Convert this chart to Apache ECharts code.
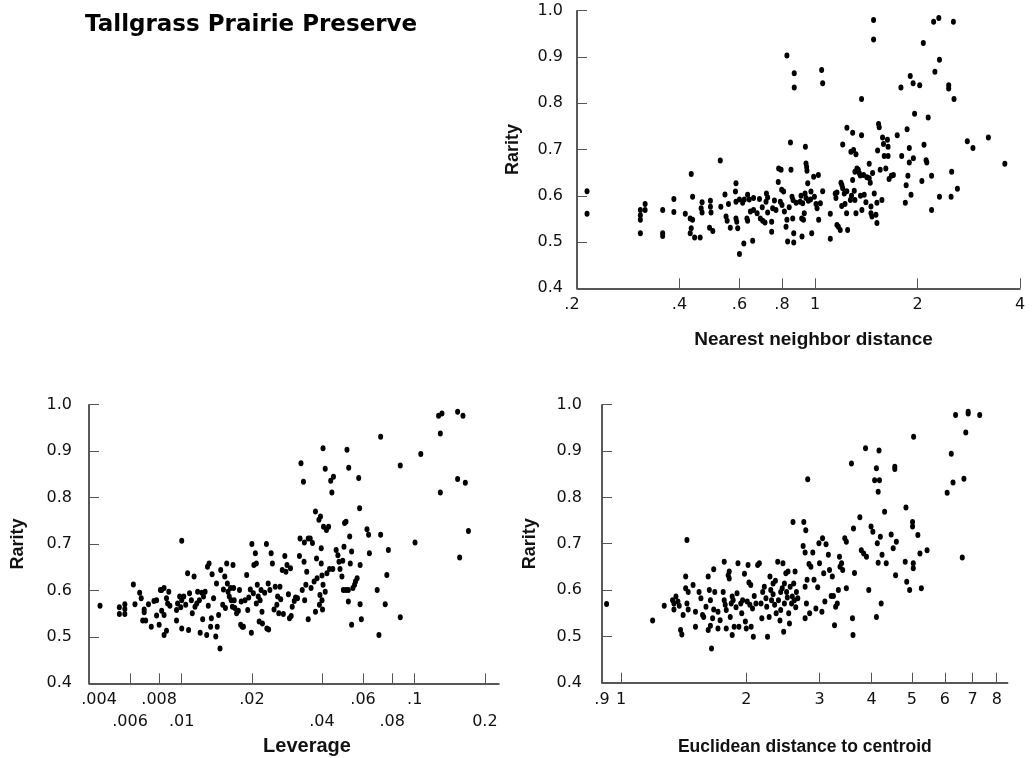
<!DOCTYPE html>
<html><head><meta charset="utf-8">
<script src="https://cdn.jsdelivr.net/npm/echarts@6/dist/echarts.min.js"></script>
<style>html,body{margin:0;padding:0;background:#fff}#c{width:1033px;height:758px}</style>
</head><body><div id="c"></div>
<script>
// ---- tick values / labels ----
const nnTickValues = [0.4, 0.6, 0.8, 1, 2, 4];
const nnLabelValues = [0.2, 0.4, 0.6, 0.8, 1, 2, 4];
const levTickValues = [0.006, 0.008, 0.01, 0.02, 0.04, 0.06, 0.08, 0.1, 0.2];
const levUpperLabels = [0.004, 0.008, 0.02, 0.06, 0.1];
const levLowerLabels = [0.006, 0.01, 0.04, 0.08, 0.2];
const eucTickValues = [1, 2, 3, 4, 5, 6, 7, 8];
const eucLabelValues = [0.9, 1, 2, 3, 4, 5, 6, 7, 8];
const rarityTicks = [0.4, 0.5, 0.6, 0.7, 0.8, 0.9, 1.0];

// ---- data: [x, rarity] ----
const nearestNeighbor = [
[0.214,0.610],[0.214,0.561],
[0.307,0.569],[0.307,0.558],[0.307,0.548],[0.307,0.519],
[0.317,0.582],[0.317,0.569],
[0.357,0.569],[0.357,0.519],[0.357,0.513],
[0.385,0.593],[0.385,0.565],
[0.416,0.561],[0.433,0.647],[0.437,0.598],
[0.430,0.551],[0.433,0.530],[0.430,0.519],[0.437,0.548],
[0.443,0.510],[0.460,0.510],
[0.466,0.586],[0.463,0.573],[0.466,0.564],
[0.493,0.589],[0.493,0.576],[0.495,0.564],
[0.490,0.531],[0.501,0.524],
[0.527,0.676],[0.529,0.576],
[0.544,0.603],[0.548,0.555],[0.552,0.546],[0.557,0.582],[0.564,0.531],
[0.584,0.609],[0.586,0.627],[0.586,0.587],[0.586,0.551],[0.589,0.544],[0.593,0.530],
[0.600,0.474],
[0.618,0.497],[0.656,0.503],
[0.600,0.592],[0.613,0.585],[0.620,0.592],[0.634,0.602],[0.641,0.592],[0.631,0.551],[0.634,0.546],
[0.646,0.566],[0.660,0.569],[0.676,0.562],
[0.687,0.593],[0.691,0.551],[0.702,0.546],[0.713,0.542],[0.726,0.596],[0.718,0.587],[0.726,0.564],
[0.746,0.544],[0.746,0.522],
[0.751,0.573],[0.768,0.569],[0.780,0.630],[0.782,0.659],[0.795,0.656],[0.791,0.587],[0.798,0.613],[0.809,0.609],[0.813,0.566],[0.822,0.533],[0.827,0.548],[0.831,0.501],
[0.827,0.903],
[0.847,0.715],[0.850,0.656],
[0.856,0.598],[0.862,0.591],[0.860,0.551],[0.866,0.519],[0.866,0.499],[0.869,0.865],[0.869,0.834],
[0.904,0.587],[0.910,0.600],[0.920,0.584],[0.914,0.551],[0.916,0.512],[0.925,0.548],[0.937,0.706],[0.941,0.670],[0.945,0.662],[0.947,0.654],[0.952,0.627],[0.941,0.595],[0.956,0.589],[0.935,0.605],[0.973,0.609],[0.978,0.519],
[0.991,0.641],[0.996,0.598],[1.007,0.582],[1.014,0.573],[1.023,0.645],[1.025,0.548],[1.037,0.584],
[1.046,0.872],[1.053,0.843],[1.053,0.610],
[1.109,0.561],[1.109,0.507],
[1.147,0.605],[1.152,0.595],[1.160,0.537],[1.171,0.533],[1.186,0.526],[1.192,0.628],[1.200,0.623],[1.206,0.616],[1.206,0.711],[1.198,0.578],[1.219,0.605],[1.225,0.582],[1.241,0.747],[1.238,0.562],[1.247,0.526],[1.270,0.591],[1.275,0.695],[1.290,0.736],[1.290,0.634],[1.298,0.699],[1.304,0.611],[1.310,0.591],[1.310,0.652],[1.319,0.690],[1.328,0.659],[1.340,0.656],[1.349,0.649],[1.319,0.562],[1.358,0.644],[1.370,0.809],[1.370,0.731],[1.373,0.569],[1.389,0.645],[1.395,0.602],[1.411,0.586],
[1.443,0.669],[1.443,0.638],[1.453,0.628],[1.460,0.577],[1.460,0.562],[1.470,0.555],[1.476,0.649],[1.486,0.980],[1.486,0.938],[1.493,0.605],[1.510,0.559],[1.520,0.541],[1.527,0.698],[1.537,0.755],[1.544,0.748],[1.554,0.656],[1.572,0.591],[1.579,0.726],[1.589,0.712],[1.597,0.686],[1.614,0.659],[1.632,0.721],[1.639,0.706],[1.639,0.686],[1.650,0.636],[1.676,0.643],[1.699,0.645],[1.744,0.731],[1.788,0.834],[1.797,0.686],[1.842,0.585],[1.852,0.623],[1.864,0.744],[1.874,0.643],[1.892,0.703],[1.892,0.672],[1.904,0.859],[1.914,0.602],[1.941,0.843],[1.945,0.681],[1.961,0.777],[2.03,0.839],[2.06,0.632],[2.08,0.930],[2.09,0.710],[2.12,0.677],[2.13,0.672],[2.15,0.769],[2.20,0.643],[2.20,0.569],[2.23,0.976],[2.25,0.868],[2.31,0.984],[2.32,0.894],[2.32,0.598],[2.47,0.839],[2.47,0.832],[2.51,0.598],[2.52,0.652],[2.55,0.976],[2.56,0.809],[2.62,0.615],[2.80,0.718],[2.91,0.703],[3.23,0.726],[3.61,0.669],
[0.66,0.595],[0.70,0.575],[0.72,0.605],[0.76,0.590],[0.80,0.580],[0.84,0.575],[0.88,0.585],[0.93,0.562],[0.97,0.592],[1.16,0.607],[1.24,0.610],[1.28,0.600],[1.36,0.600],[1.42,0.640],[1.52,0.585]
];

const leverage = [
[0.00446,0.567],
[0.0054,0.564],[0.0054,0.549],[0.0057,0.570],[0.0057,0.560],[0.0057,0.549],
[0.0062,0.613],[0.0063,0.570],[0.0066,0.595],[0.0067,0.583],
[0.0068,0.535],[0.0070,0.535],[0.0069,0.559],[0.0069,0.553],
[0.0072,0.570],[0.0074,0.522],
[0.0076,0.577],[0.0078,0.579],[0.0078,0.546],[0.0080,0.526],
[0.0081,0.601],[0.0082,0.601],[0.0084,0.605],[0.0082,0.556],[0.0084,0.547],[0.0084,0.504],[0.0086,0.513],[0.0086,0.583],[0.0088,0.597],[0.0087,0.572],[0.0089,0.567],
[0.0095,0.535],[0.0095,0.558],[0.0096,0.572],[0.0098,0.587],[0.0099,0.564],[0.0100,0.707],[0.0100,0.518],[0.0100,0.579],
[0.0102,0.587],[0.0104,0.569],[0.0106,0.637],[0.0107,0.515],[0.0108,0.594],[0.0110,0.579],[0.0111,0.551],[0.0113,0.630],[0.0114,0.565],[0.0116,0.572],[0.0117,0.597],[0.0119,0.579],[0.0120,0.509],[0.0123,0.538],[0.0122,0.595],[0.0124,0.587],[0.0126,0.597],[0.0128,0.504],[0.0129,0.651],[0.0130,0.567],[0.0131,0.658],
[0.0133,0.522],[0.0134,0.540],[0.0135,0.635],[0.0137,0.583],[0.0140,0.501],[0.0141,0.615],[0.0142,0.522],[0.0144,0.547],[0.0146,0.475],[0.0147,0.644],[0.0150,0.569],[0.0151,0.602],[0.0153,0.630],[0.0154,0.562],[0.0156,0.658],[0.0157,0.615],[0.0158,0.597],[0.0160,0.587],[0.0162,0.605],[0.0163,0.579],[0.0165,0.565],[0.0166,0.655],[0.0167,0.605],[0.0168,0.579],[0.0169,0.562],[0.0172,0.551],[0.0175,0.556],[0.0177,0.601],[0.0179,0.526],[0.0180,0.576],[0.0182,0.522],[0.0184,0.522],[0.0187,0.579],[0.0190,0.633],[0.0192,0.558],[0.0194,0.585],[0.0197,0.602],[0.0199,0.509],[0.0200,0.700],[0.0203,0.594],[0.0204,0.655],[0.0207,0.680],[0.0209,0.658],[0.0209,0.572],[0.0211,0.612],[0.0213,0.587],[0.0215,0.533],[0.0217,0.579],[0.0219,0.601],[0.0221,0.554],[0.0222,0.529],[0.0227,0.595],[0.0231,0.700],[0.0235,0.615],
[0.0232,0.518],[0.0236,0.516],[0.0239,0.601],[0.0242,0.680],[0.0245,0.658],[0.0249,0.559],[0.0252,0.608],[0.0256,0.569],[0.0258,0.587],[0.0261,0.551],[0.0264,0.608],[0.0266,0.581],[0.0270,0.644],[0.0273,0.549],[0.0277,0.674],[0.0280,0.640],[0.0283,0.655],[0.0287,0.592],[0.0290,0.540],[0.0293,0.648],[0.0295,0.545],[0.0298,0.565],[0.0304,0.577],[0.0308,0.585],[0.0314,0.583],
[0.0322,0.712],[0.0320,0.674],[0.0325,0.874],[0.0329,0.601],[0.0333,0.834],[0.0335,0.662],[0.0336,0.703],[0.0337,0.579],[0.0341,0.612],[0.0344,0.640],[0.0349,0.712],[0.0349,0.538],[0.0356,0.712],[0.0359,0.605],[0.0364,0.702],[0.0370,0.619],[0.0375,0.770],[0.0375,0.554],[0.0379,0.669],[0.0381,0.626],[0.0388,0.752],[0.0390,0.569],[0.0392,0.590],[0.0394,0.759],[0.0397,0.691],[0.0397,0.658],[0.0400,0.632],[0.0400,0.579],[0.0402,0.559],[0.0404,0.906],[0.0404,0.612],[0.0406,0.737],[0.0413,0.862],[0.0413,0.597],[0.0418,0.730],[0.0420,0.637],[0.0427,0.737],[0.0431,0.646],[0.0436,0.836],[0.0441,0.811],[0.0445,0.646],[0.0448,0.845],
[0.0460,0.687],[0.0468,0.676],[0.0473,0.662],[0.0478,0.646],[0.0487,0.630],[0.0491,0.664],[0.0494,0.601],[0.0497,0.694],[0.0500,0.745],[0.0507,0.748],[0.0507,0.601],[0.0512,0.903],[0.0519,0.601],[0.0521,0.864],[0.0519,0.576],[0.0526,0.716],[0.0529,0.658],[0.0536,0.684],[0.0536,0.526],[0.0543,0.605],[0.0552,0.612],[0.0557,0.619],[0.0566,0.626],[0.0575,0.842],[0.0580,0.777],[0.0583,0.655],[0.0583,0.570],[0.0590,0.538],[0.0624,0.732],[0.0634,0.720],[0.0639,0.680],
[0.0690,0.601],[0.0702,0.504],[0.0714,0.720],[0.0747,0.570],[0.0759,0.633],[0.0771,0.687],[0.0714,0.931],[0.0867,0.542],[0.0867,0.869],[0.1003,0.703],[0.1062,0.894],
[0.1266,0.976],[0.1309,0.981],[0.1288,0.938],[0.1288,0.811],[0.1528,0.985],[0.1611,0.976],[0.1528,0.840],[0.1649,0.832],[0.1559,0.671],[0.170,0.728]
];

const euclidean = [
[0.923,0.570],[1.191,0.534],[1.27,0.566],
[1.33,0.578],[1.34,0.571],[1.34,0.558],[1.355,0.586],[1.37,0.575],[1.38,0.566],
[1.39,0.514],[1.40,0.504],
[1.41,0.546],[1.43,0.629],[1.43,0.604],[1.44,0.708],[1.44,0.571],[1.45,0.596],[1.45,0.558],[1.49,0.611],[1.51,0.553],[1.51,0.521],[1.54,0.596],[1.556,0.582],[1.57,0.546],[1.58,0.542],[1.60,0.564],[1.62,0.629],[1.62,0.514],[1.63,0.600],[1.64,0.523],[1.64,0.578],[1.65,0.474],[1.66,0.539],[1.67,0.645],[1.67,0.558],[1.68,0.596],[1.71,0.553],[1.71,0.517],[1.73,0.535],[1.76,0.596],[1.77,0.661],[1.77,0.578],[1.78,0.568],[1.79,0.557],[1.79,0.517],[1.81,0.632],[1.82,0.625],[1.82,0.640],[1.83,0.542],[1.84,0.571],[1.85,0.503],[1.85,0.586],[1.86,0.578],[1.87,0.521],[1.89,0.563],[1.90,0.593],[1.91,0.658],[1.92,0.521],[1.94,0.571],[1.95,0.550],[1.96,0.578],[1.98,0.635],[1.99,0.532],[2.0,0.517],[2.01,0.575],[2.02,0.654],[2.03,0.616],[2.04,0.568],[2.05,0.611],[2.055,0.521],[2.07,0.560],[2.08,0.499],[2.09,0.587],[2.11,0.571],[2.13,0.654],[2.15,0.658],[2.17,0.571],[2.18,0.539],[2.19,0.596],[2.21,0.607],[2.23,0.582],[2.24,0.564],[2.25,0.499],[2.27,0.542],[2.28,0.629],[2.29,0.600],[2.30,0.578],[2.32,0.614],[2.32,0.591],[2.34,0.568],[2.35,0.620],[2.36,0.550],[2.38,0.661],[2.39,0.578],[2.41,0.534],[2.42,0.596],[2.42,0.557],[2.44,0.604],[2.45,0.658],[2.46,0.510],[2.47,0.571],[2.47,0.614],[2.49,0.636],[2.50,0.596],[2.51,0.584],[2.52,0.640],[2.53,0.550],[2.54,0.528],[2.55,0.607],[2.57,0.571],[2.58,0.586],[2.59,0.747],[2.60,0.614],[2.61,0.578],[2.62,0.640],[2.63,0.563],[2.64,0.596],[2.66,0.582],
[2.74,0.695],[2.75,0.747],[2.77,0.681],[2.77,0.607],[2.77,0.539],[2.78,0.729],[2.79,0.571],[2.80,0.622],[2.81,0.839],[2.83,0.656],[2.84,0.550],[2.86,0.650],[2.89,0.681],[2.91,0.622],[2.94,0.560],[2.97,0.606],[2.99,0.701],[3.0,0.658],[3.04,0.553],[3.05,0.712],[3.07,0.636],[3.09,0.575],[3.11,0.699],[3.15,0.676],[3.17,0.643],[3.20,0.587],[3.22,0.629],[3.24,0.587],[3.26,0.524],[3.28,0.564],[3.31,0.571],[3.33,0.600],[3.35,0.672],[3.36,0.650],[3.39,0.658],[3.41,0.643],[3.45,0.712],[3.48,0.704],[3.48,0.604],[3.58,0.873],[3.60,0.539],[3.61,0.503],[3.62,0.733],[3.64,0.637],[3.75,0.757],[3.78,0.686],[3.83,0.679],[3.87,0.906],[3.89,0.672],[3.94,0.600],[3.99,0.737],[4.03,0.726],[4.07,0.837],[4.11,0.542],[4.11,0.863],[4.13,0.701],[4.15,0.812],[4.15,0.659],[4.17,0.901],[4.18,0.837],[4.20,0.715],[4.22,0.571],[4.24,0.676],[4.30,0.769],[4.34,0.658],[4.46,0.720],[4.51,0.690],[4.55,0.866],[4.55,0.861],[4.59,0.704],[4.57,0.632],[4.82,0.661],[4.84,0.778],[4.86,0.618],[4.94,0.600],[5.02,0.747],[5.02,0.737],[5.04,0.658],[5.04,0.647],[5.05,0.931],[5.17,0.719],[5.23,0.679],[5.27,0.604],[5.44,0.686],
[6.08,0.810],[6.22,0.894],[6.28,0.832],[6.37,0.978],[6.61,0.670],[6.67,0.840],[6.74,0.940],[6.83,0.985],[6.83,0.981],[7.28,0.978]
];

// ---- styling helpers ----
const AXIS_LINE = { show: true, onZero: false, lineStyle: { color: '#222', width: 1.5 } };
const TICK_STYLE = { color: '#555', width: 1 };
const LABEL_FONT = { fontFamily: 'DejaVu Sans', fontSize: 16, color: '#111' };
const NAME_FONT = { fontFamily: 'Liberation Sans', fontWeight: 'bold', color: '#111' };

function near(a, b) { return Math.abs(a - b) < 1e-9 * Math.max(1, Math.abs(b)); }
function shortNum(v) {
  const r = +(+v).toPrecision(3);
  let s = String(r);
  if (r < 1) s = s.replace(/^0/, '');
  return s;
}

function yAxis(gridIndex, margin, nameGap) {
  return {
    gridIndex, type: 'value', min: 0.4, max: 1.0, interval: 0.1,
    axisLine: AXIS_LINE,
    axisTick: { show: true, inside: true, length: 10, lineStyle: TICK_STYLE, customValues: rarityTicks },
    axisLabel: Object.assign({ margin, formatter: v => (+v).toFixed(1), customValues: rarityTicks }, LABEL_FONT),
    splitLine: { show: false },
    name: 'Rarity', nameLocation: 'middle', nameGap,
    nameTextStyle: Object.assign({ fontSize: 18 }, NAME_FONT)
  };
}

const option = {
  animation: false,
  backgroundColor: '#fff',
  title: {
    text: 'Tallgrass Prairie Preserve', left: 85, top: 14, padding: 0,
    textStyle: { fontFamily: 'DejaVu Sans', fontWeight: 'bold', fontSize: 23, color: '#000' }
  },
  grid: [
    { left: 577, top: 10.7, width: 443, height: 277.6 },
    { left: 89, top: 404.7, width: 410, height: 278.6 },
    { left: 602, top: 404.7, width: 405.7, height: 278 }
  ],
  xAxis: [
    {
      gridIndex: 0, type: 'log', logBase: 10, min: 0.2, max: 4,
      axisLine: AXIS_LINE,
      axisTick: { show: true, inside: true, length: 10, lineStyle: TICK_STYLE, customValues: nnTickValues },
      axisLabel: Object.assign({
        margin: 6, lineHeight: 22, customValues: nnLabelValues,
        formatter: v => near(+(+v).toPrecision(3), 0.2) ? '{q|.2}' : shortNum(v),
        rich: { q: { fontFamily: 'DejaVu Sans', fontSize: 16, color: '#111', lineHeight: 22, padding: [0, 10, 0, 0] } }
      }, LABEL_FONT),
      splitLine: { show: false }, minorTick: { show: false },
      name: 'Nearest neighbor distance', nameLocation: 'middle', nameGap: 42,
      nameTextStyle: Object.assign({ fontSize: 19, padding: [0, 0, 0, 30] }, NAME_FONT)
    },
    {
      gridIndex: 1, type: 'log', logBase: 10, min: 0.004, max: 0.23,
      axisLine: AXIS_LINE,
      axisTick: { show: true, inside: true, length: 10, lineStyle: TICK_STYLE, customValues: levTickValues },
      axisLabel: Object.assign({
        margin: 6, lineHeight: 22,
        customValues: levUpperLabels.concat(levLowerLabels),
        formatter: v => {
          const r = +(+v).toPrecision(3);
          if (levLowerLabels.some(u => near(u, r))) return '\n' + (near(r, 0.2) ? '0.2' : shortNum(r));
          if (near(r, 0.004)) return '{p|' + shortNum(r) + '}';
          return shortNum(r);
        },
        rich: { p: { fontFamily: 'DejaVu Sans', fontSize: 16, color: '#111', lineHeight: 22, padding: [0, 0, 0, 20] } }
      }, LABEL_FONT),
      splitLine: { show: false }, minorTick: { show: false },
      name: 'Leverage', nameLocation: 'middle', nameGap: 53,
      nameTextStyle: Object.assign({ fontSize: 20, padding: [0, 0, 0, 26] }, NAME_FONT)
    },
    {
      gridIndex: 2, type: 'log', logBase: 10, min: 0.9, max: 8.5,
      axisLine: AXIS_LINE,
      axisTick: { show: true, inside: true, length: 10, lineStyle: TICK_STYLE, customValues: eucTickValues },
      axisLabel: Object.assign({ margin: 6, lineHeight: 22, customValues: eucLabelValues, formatter: v => shortNum(v) }, LABEL_FONT),
      splitLine: { show: false }, minorTick: { show: false },
      name: 'Euclidean distance to centroid', nameLocation: 'middle', nameGap: 55,
      nameTextStyle: Object.assign({ fontSize: 17.5 }, NAME_FONT)
    }
  ],
  yAxis: [ yAxis(0, 14, 55), yAxis(1, 17, 62), yAxis(2, 20, 63) ],
  series: [
    { type: 'scatter', xAxisIndex: 0, yAxisIndex: 0, data: nearestNeighbor },
    { type: 'scatter', xAxisIndex: 1, yAxisIndex: 1, data: leverage },
    { type: 'scatter', xAxisIndex: 2, yAxisIndex: 2, data: euclidean }
  ].map(s => Object.assign(s, { symbol: 'circle', symbolSize: [5, 6], itemStyle: { color: '#000', opacity: 1 }, silent: true }))
};

const chart = echarts.init(document.getElementById('c'), null, { renderer: 'canvas' });
chart.setOption(option);
</script>
</body></html>
